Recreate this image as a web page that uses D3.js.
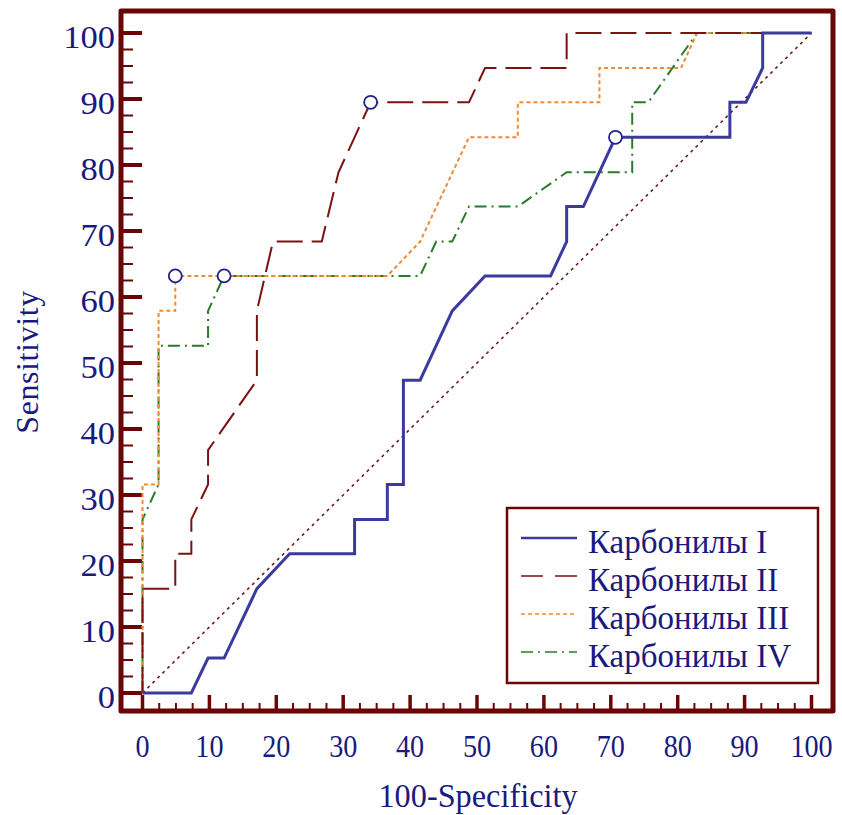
<!DOCTYPE html>
<meta charset="utf-8">
<style>
  body { margin: 0; background: #fff; }
  text { font-family: "Liberation Serif", "Times New Roman", serif; fill: #1a1a7e; }
</style>
<script src="https://d3js.org/d3.v7.min.js"></script>
<div id="roc"></div>
<script>

// ROC curves (100-Specificity, Sensitivity)
var fpr1 = [0, 7.3, 9.8, 12.2, 17.1, 22.0, 31.7, 31.7, 36.6, 36.6, 39.0, 39.0, 41.5, 46.3, 51.2, 61.0, 63.4, 63.4, 65.9, 70.7, 87.8, 87.8, 90.2, 92.7, 92.7, 100]
var tpr1 = [0, 0, 5.3, 5.3, 15.8, 21.1, 21.1, 26.3, 26.3, 31.6, 31.6, 47.4, 47.4, 57.9, 63.2, 63.2, 68.4, 73.7, 73.7, 84.2, 84.2, 89.5, 89.5, 94.7, 100, 100]

var fpr2 = [0, 0, 4.9, 4.9, 7.3, 7.3, 9.8, 9.8, 17.1, 17.1, 19.5, 26.8, 29.3, 34.1, 48.8, 51.2, 63.4, 63.4, 100]
var tpr2 = [0, 15.8, 15.8, 21.1, 21.1, 26.3, 31.6, 36.8, 47.4, 57.9, 68.4, 68.4, 78.9, 89.5, 89.5, 94.7, 94.7, 100, 100]

var fpr3 = [0, 0, 2.4, 2.4, 4.9, 4.9, 36.6, 41.5, 48.8, 56.1, 56.1, 68.3, 68.3, 80.5, 82.9, 100]
var tpr3 = [0, 31.6, 31.6, 57.9, 57.9, 63.2, 63.2, 68.4, 84.2, 84.2, 89.5, 89.5, 94.7, 94.7, 100, 100]

var fpr4 = [0, 0, 2.4, 2.4, 9.8, 9.8, 12.2, 41.5, 43.9, 46.3, 48.8, 56.1, 63.4, 73.2, 73.2, 75.6, 82.9, 100]
var tpr4 = [0, 26.3, 31.6, 52.6, 52.6, 57.9, 63.2, 63.2, 68.4, 68.4, 73.7, 73.7, 78.9, 78.9, 89.5, 89.5, 100, 100]

// optimal cut-off points (circles)
var cutFpr = [70.7, 34.1, 4.9, 12.2]
var cutTpr = [84.2, 89.5, 63.2, 63.2]

var names = ["Карбонилы I", "Карбонилы II", "Карбонилы III", "Карбонилы IV"]
var tickLabels = [0, 10, 20, 30, 40, 50, 60, 70, 80, 90, 100]

var width = 842,
    height = 815

var frameCol = "#6b0606"
var curves = [
  { x: fpr1, y: tpr1, color: "#3b3b9e", width: 3,   dash: null },
  { x: fpr2, y: tpr2, color: "#7a1212", width: 2,   dash: "26,9" },
  { x: fpr3, y: tpr3, color: "#f28a30", width: 2,   dash: "4,3" },
  { x: fpr4, y: tpr4, color: "#2b7a2b", width: 2,   dash: "12,5,2,5" }
]

var svg = d3.select("#roc")
  .append("svg")
    .attr("width", width)
    .attr("height", height)

var x = d3.scaleLinear().domain([0, 100]).range([142.5, 811.5])
var y = d3.scaleLinear().domain([0, 100]).range([693, 33])

// frame (note: "top" is taken by window.top, so prefix them)
var fLeft = 121, fRight = 833, fTop = 11, fBottom = 711
svg.append("rect")
  .attr("x", fLeft).attr("y", fTop)
  .attr("width", fRight - fLeft).attr("height", fBottom - fTop)
  .attr("fill", "none")
  .attr("stroke", frameCol)
  .attr("stroke-width", 5)
  .attr("stroke-linejoin", "round")

// ticks every 2.5, long ones every 10
var minor = d3.range(0, 100.01, 2.5)

svg.selectAll("yTick")
  .data(minor)
  .enter()
  .append("line")
    .attr("x1", fLeft)
    .attr("x2", function(d){ return d % 10 == 0 ? 142 : 133 })
    .attr("y1", function(d){ return y(d) })
    .attr("y2", function(d){ return y(d) })
    .attr("stroke", frameCol)
    .attr("stroke-width", function(d){ return d % 10 == 0 ? 4 : 2 })

svg.selectAll("xTick")
  .data(minor)
  .enter()
  .append("line")
    .attr("x1", function(d){ return x(d) })
    .attr("x2", function(d){ return x(d) })
    .attr("y1", fBottom)
    .attr("y2", function(d){ return d % 10 == 0 ? 695 : 703 })
    .attr("stroke", frameCol)
    .attr("stroke-width", function(d){ return d % 10 == 0 ? 3.5 : 2 })

// tick labels (y ones a bit wide, x ones a bit narrow, like the original image)
svg.selectAll("yLab")
  .data(tickLabels)
  .enter()
  .append("text")
    .attr("transform", function(d){ return "translate(115," + (y(d) + 15) + ") scale(1.08,1)" })
    .attr("text-anchor", "end")
    .style("font-size", "32px")
    .text(function(d){ return d })

svg.selectAll("xLab")
  .data(tickLabels)
  .enter()
  .append("text")
    .attr("transform", function(d){ return "translate(" + x(d) + ",757) scale(0.88,1)" })
    .attr("text-anchor", "middle")
    .style("font-size", "32px")
    .text(function(d){ return d })

// axis titles
svg.append("text")
  .attr("transform", "translate(478,807) scale(0.95,1)")
  .attr("text-anchor", "middle")
  .style("font-size", "34px")
  .text("100-Specificity")

svg.append("text")
  .attr("transform", "translate(38,362) rotate(-90)")
  .attr("text-anchor", "middle")
  .style("font-size", "32px")
  .style("letter-spacing", "0.6px")
  .text("Sensitivity")

// reference diagonal
svg.append("line")
  .attr("x1", x(0)).attr("y1", y(0))
  .attr("x2", x(100)).attr("y2", y(100))
  .attr("stroke", "#6e1c1c")
  .attr("stroke-width", 1.6)
  .attr("stroke-dasharray", "3,4")

var line = d3.line()
  .x(function(d){ return x(d[0]) })
  .y(function(d){ return y(d[1]) })

// draw curves back to front (IV first, I last)
curves.slice().reverse().forEach(function(c) {
  svg.append("path")
    .attr("d", line(d3.zip(c.x, c.y)))
    .attr("fill", "none")
    .attr("stroke", c.color)
    .attr("stroke-width", c.width)
    .attr("stroke-dasharray", c.dash)
})

svg.selectAll("cut")
  .data(d3.zip(cutFpr, cutTpr))
  .enter()
  .append("circle")
    .attr("cx", function(d){ return x(d[0]) })
    .attr("cy", function(d){ return y(d[1]) })
    .attr("r", 6.5)
    .attr("fill", "#fff")
    .attr("stroke", "#22228a")
    .attr("stroke-width", 1.8)

// legend
var lg = svg.append("g")
lg.append("rect")
  .attr("x", 507).attr("y", 508)
  .attr("width", 311).attr("height", 175)
  .attr("fill", "#fff")
  .attr("stroke", frameCol)
  .attr("stroke-width", 2.5)

names.forEach(function(n, i) {
  var by = 553 + i * 38
  lg.append("line")
    .attr("x1", 521).attr("x2", 577)
    .attr("y1", by - 15).attr("y2", by - 15)
    .attr("stroke", curves[i].color)
    .attr("stroke-width", i == 0 ? 2.5 : 1.5)
    .attr("stroke-dasharray", i == 1 ? "22,12" : curves[i].dash)
  lg.append("text")
    .attr("x", 588).attr("y", by)
    .style("font-size", "33px")
    .text(n)
})

</script>
